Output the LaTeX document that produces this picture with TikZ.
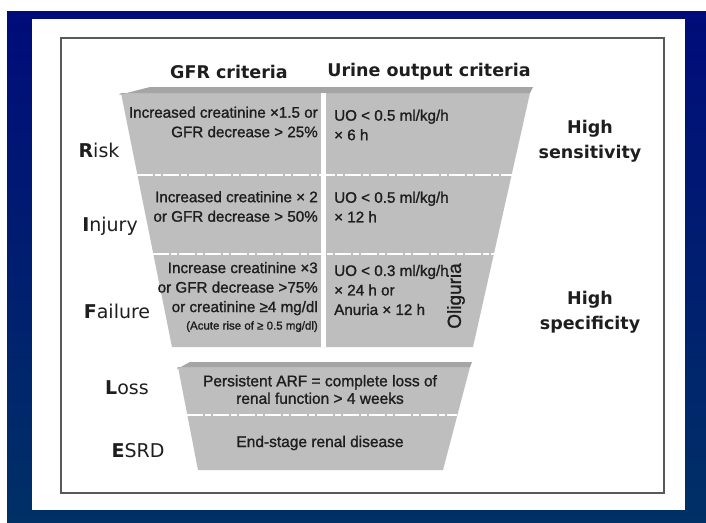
\documentclass[tikz,border=0pt]{standalone}
\usepackage{fontspec}
\setmainfont{Liberation Sans}
\newfontfamily\headfont{DejaVu Sans}
\newfontfamily\cellfont{Liberation Sans}[BoldFont={Liberation Sans},BoldFeatures={FakeBold=1.2}]
\usepackage{tikz}
\usetikzlibrary{calc}

\definecolor{frameblue}{RGB}{0,12,122}
\definecolor{frameblue2}{RGB}{0,48,102}
\definecolor{funnelgray}{RGB}{190,190,190}
\definecolor{rimgray}{RGB}{165,165,165}
\definecolor{ink}{RGB}{30,30,30}

\begin{document}
\begin{tikzpicture}[x=1pt,y=-1pt,
    hdr/.style={font=\headfont\bfseries\fontsize{17.5}{25}\selectfont,text=ink,align=center},
    stage/.style={font=\headfont\fontsize{19}{21}\selectfont,text=ink},
    cell/.style={font=\cellfont\bfseries\fontsize{15.2}{19.5}\selectfont,text=ink,inner sep=0pt},
    rowline/.style={white,line width=1.5pt,dash pattern=on 16pt off 2pt on 6pt off 2pt}]
  \useasboundingbox (0,0) rectangle (706,522);
  \fill[white] (0,0) rectangle (706,522);
  \shade[top color=frameblue,bottom color=frameblue2] (7,11) rectangle (706,522);
  \fill[white] (32,19) rectangle (685,510);
  \draw[black!65,line width=1.6pt] (61,38) rectangle (664,493);

  % upper funnel: risk, injury, failure
  \coordinate (ttl) at (121,93);
  \coordinate (ttr) at (530,93);
  \coordinate (tbr) at (473,347);
  \coordinate (tbl) at (172,347);
  \fill[funnelgray] (ttl) -- (ttr) -- (tbr) -- (tbl) -- cycle;
  \fill[rimgray] (119,95) -- (150,87) -- (533,87) -- (ttr) -- (ttl) -- cycle;
  \draw[white,line width=5pt] (323.5,93) -- (323.5,347);
  \draw[rowline] ($(ttl)!0.323!(tbl)$) -- ($(ttr)!0.323!(tbr)$);
  \draw[rowline] ($(ttl)!0.634!(tbl)$) -- ($(ttr)!0.634!(tbr)$);

  % lower funnel: loss, esrd
  \coordinate (ltl) at (178,367);
  \coordinate (ltr) at (470,367);
  \coordinate (lbr) at (443,470);
  \coordinate (lbl) at (198,470);
  \fill[funnelgray] (ltl) -- (ltr) -- (lbr) -- (lbl) -- cycle;
  \fill[rimgray] (177,369) -- (190,362) -- (472,362) -- (ltr) -- (ltl) -- cycle;
  \draw[rowline] ($(ltl)!0.466!(lbl)$) -- ($(ltr)!0.466!(lbr)$);

  \node[hdr] (gfr) at (229,72) {GFR criteria};
  \node[hdr] (urine) at (429,72) {Urine output criteria};

  \node[stage] (risk) at (99,150) {\textbf{R}isk};
  \node[stage] (injury) at (110,226) {\textbf{I}njury};
  \node[stage] (failure) at (117,311) {\textbf{F}ailure};
  \node[stage] (loss) at (127,388) {\textbf{L}oss};
  \node[stage] (esrd) at (138,451) {\textbf{E}SRD};

  \node[hdr] (sens) at (590,141) {High\\sensitivity};
  \node[hdr] (spec) at (590,312) {High\\specificity};

  \node[cell,align=right,anchor=east] (r gfr) at (318,122) {Increased creatinine ×1.5 or\\GFR decrease > 25\%};
  \node[cell,align=left,anchor=west] (r uo) at (334,125) {UO < 0.5 ml/kg/h\\× 6 h};
  \node[cell,align=right,anchor=east] (i gfr) at (318,206.5) {Increased creatinine × 2\\or GFR decrease > 50\%};
  \node[cell,align=left,anchor=west] (i uo) at (334,207) {UO < 0.5 ml/kg/h\\× 12 h};
  \node[cell,align=right,anchor=east] (f gfr) at (318,297) {Increase creatinine ×3\\or GFR decrease >75\%\\or creatinine ≥4 mg/dl\\[-2pt]{\fontsize{11.5}{13}\selectfont (Acute rise of ≥ 0.5 mg/dl)}};
  \node[cell,align=left,anchor=west] (f uo) at (334,290) {UO < 0.3 ml/kg/h\\× 24 h or\\Anuria × 12 h};
  \node[cell,font=\cellfont\bfseries\fontsize{19}{21}\selectfont,rotate=90] (olig) at (456,296) {Oliguria};

  \node[cell,align=center,font=\cellfont\bfseries\fontsize{15.5}{17.5}\selectfont] (l txt) at (320,389.5) {Persistent ARF = complete loss of\\renal function > 4 weeks};
  \node[cell,font=\cellfont\bfseries\fontsize{15.5}{17.5}\selectfont] (e txt) at (320,443) {End-stage renal disease};
\end{tikzpicture}
\end{document}
